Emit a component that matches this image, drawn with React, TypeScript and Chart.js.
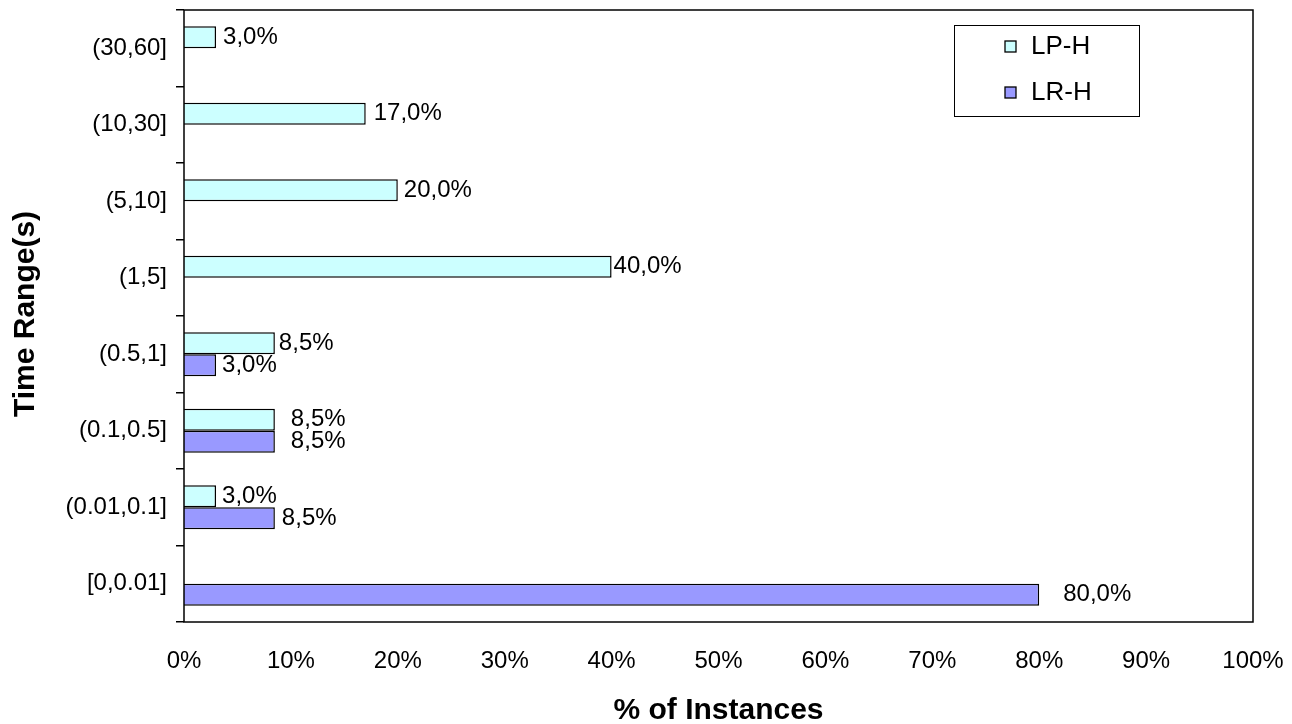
import React, { useEffect, useRef } from 'react';
import { Chart, registerables } from 'chart.js';

Chart.register(...registerables);

// ---- data ----
const categories = ['(30,60]', '(10,30]', '(5,10]', '(1,5]', '(0.5,1]', '(0.1,0.5]', '(0.01,0.1]', '[0,0.01]'];
const seriesNames = ['LP-H', 'LR-H'];
const lpH: (number | null)[] = [3.0, 17.0, 20.0, 40.0, 8.5, 8.5, 3.0, null];
const lrH: (number | null)[] = [null, null, null, null, 3.0, 8.5, 8.5, 80.0];
const xTickValues = [0, 10, 20, 30, 40, 50, 60, 70, 80, 90, 100];
const xTitle = '% of Instances';
const yTitle = 'Time Range(s)';

// ---- style ----
const FONT = "'Liberation Sans', Arial, Helvetica, sans-serif";
const colors = ['#CCFFFF', '#9999FF'];
const labelGaps = [
  [7, 8, 6, 2, 4, 16, 6, 0],
  [0, 0, 0, 0, 6, 16, 7, 24],
];

const fmt = (v: number) => v.toFixed(1).replace('.', ',') + '%';

const decorPlugin = {
  id: 'decor',
  afterDatasetsDraw(chart: any) {
    const ctx = chart.ctx;
    ctx.save();
    ctx.font = `24px ${FONT}`;
    ctx.fillStyle = '#000';
    ctx.textBaseline = 'middle';
    ctx.textAlign = 'left';
    chart.data.datasets.forEach((ds: any, di: number) => {
      const meta = chart.getDatasetMeta(di);
      meta.data.forEach((bar: any, i: number) => {
        const v = ds.data[i];
        if (v == null) return;
        ctx.fillText(fmt(v), bar.x + labelGaps[di][i], bar.y);
      });
    });
    ctx.restore();
  },
  afterDraw(chart: any) {
    const ctx = chart.ctx;
    const a = chart.chartArea;
    ctx.save();
    // plot frame
    ctx.strokeStyle = '#000';
    ctx.lineWidth = 1.5;
    ctx.strokeRect(a.left, a.top, a.right - a.left, a.bottom - a.top);

    // legend
    const lx = 954, ly = 25, lw = 185, lh = 91;
    ctx.fillStyle = '#fff';
    ctx.fillRect(lx, ly, lw, lh);
    ctx.lineWidth = 1;
    ctx.strokeStyle = '#000';
    ctx.strokeRect(lx + 0.5, ly + 0.5, lw, lh);
    ctx.font = `26px ${FONT}`;
    ctx.textBaseline = 'middle';
    ctx.textAlign = 'left';
    seriesNames.forEach((name, i) => {
      const cy = ly + 21 + i * 46;
      ctx.fillStyle = colors[i];
      ctx.fillRect(1005, cy - 5, 11, 11);
      ctx.strokeStyle = '#000';
      ctx.lineWidth = 1.3;
      ctx.strokeRect(1005, cy - 5, 11, 11);
      ctx.fillStyle = '#000';
      ctx.fillText(name, 1031, cy + 1);
    });

    // axis titles
    ctx.font = `bold 30px ${FONT}`;
    ctx.fillStyle = '#000';
    ctx.textAlign = 'center';
    ctx.textBaseline = 'middle';
    ctx.fillText(xTitle, (a.left + a.right) / 2, 711);
    ctx.save();
    ctx.translate(26, (a.top + a.bottom) / 2 - 2);
    ctx.rotate(-Math.PI / 2);
    ctx.fillText(yTitle, 0, 0);
    ctx.restore();
    ctx.restore();
  },
};

export default function App() {
  const ref = useRef<HTMLCanvasElement | null>(null);
  useEffect(() => {
    if (!ref.current) return;
    const chart = new Chart(ref.current, {
      type: 'bar',
      data: {
        labels: categories,
        datasets: [
          {
            label: seriesNames[0],
            data: lpH,
            backgroundColor: colors[0],
            borderColor: '#000',
            borderWidth: 1.5,
            categoryPercentage: 0.575,
            barPercentage: 1,
          },
          {
            label: seriesNames[1],
            data: lrH,
            backgroundColor: colors[1],
            borderColor: '#000',
            borderWidth: 1.5,
            categoryPercentage: 0.575,
            barPercentage: 1,
          },
        ],
      },
      options: {
        indexAxis: 'y',
        responsive: false,
        animation: false,
        devicePixelRatio: 1,
        layout: { padding: { top: 10, right: 39, left: 0, bottom: 0 } },
        plugins: {
          legend: { display: false },
          tooltip: { enabled: false },
        },
        scales: {
          x: {
            type: 'linear',
            min: 0,
            max: 100,
            afterBuildTicks: (scale: any) => {
              scale.ticks = xTickValues.map((v) => ({ value: v }));
            },
            ticks: {
              color: '#000',
              font: { family: FONT, size: 24 },
              padding: 25,
              maxRotation: 0,
              autoSkip: false,
              callback: (v: any) => `${v}%`,
            },
            grid: { display: false, drawTicks: false },
            border: { display: false },
            afterFit: (scale: any) => {
              scale.height = 102;
              scale.paddingLeft = 0;
              scale.paddingRight = 0;
            },
          },
          y: {
            type: 'category',
            offset: true,
            ticks: {
              color: '#000',
              font: { family: FONT, size: 24 },
              padding: 9,
              autoSkip: false,
            },
            grid: {
              display: true,
              offset: true,
              drawOnChartArea: false,
              drawTicks: true,
              tickLength: 8,
              color: '#000',
              lineWidth: 1.5,
            },
            border: { display: false },
            afterFit: (scale: any) => {
              scale.width = 184;
              scale.paddingTop = 0;
              scale.paddingBottom = 0;
            },
          },
        },
      },
      plugins: [decorPlugin],
    } as any);
    return () => chart.destroy();
  }, []);
  return (
    <div style={{ position: 'absolute', left: 0, top: 0, width: 1292, height: 724, background: '#fff' }}>
      <canvas ref={ref} width={1292} height={724} />
    </div>
  );
}
